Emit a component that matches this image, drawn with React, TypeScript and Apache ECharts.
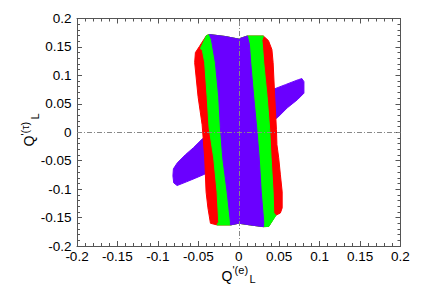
import React, { useEffect, useRef } from "react";
import * as echarts from "echarts";

type Pt = [number, number];

// Axis tick values
const X_MIN = -0.2;
const X_MAX = 0.2;
const Y_MIN = -0.2;
const Y_MAX = 0.2;
const TICK_STEP = 0.05;

// Region outlines (data coordinates: Q'(e)_L , Q'(τ)_L)
const ARM_UPPER: Pt[] = [
  [0.0417, 0.0749], [0.0577, 0.0837], [0.0738, 0.0925], [0.0781, 0.0943],
  [0.0806, 0.089], [0.0806, 0.0687], [0.0726, 0.0573], [0.0602, 0.0432],
  [0.0478, 0.0256], [0.0417, 0.0203],
];
const ARM_LOWER: Pt[] = [
  [-0.0412, -0.0079], [-0.0449, -0.0115], [-0.0561, -0.0273], [-0.066, -0.0396],
  [-0.0759, -0.0537], [-0.0808, -0.0643], [-0.0814, -0.0767], [-0.0804, -0.089],
  [-0.0762, -0.0937], [-0.0647, -0.0872], [-0.0536, -0.0807], [-0.0412, -0.0731],
];
const RED_OUTER: Pt[] = [
  [-0.0536, 0.1401], [-0.0487, 0.1507], [-0.04, 0.17], [-0.0363, 0.1718],
  [-0.0165, 0.1683], [-0.0004, 0.1639], [0.0107, 0.1692], [0.0305, 0.1692],
  [0.0367, 0.1612], [0.041, 0.1454], [0.0425, 0.1225], [0.0445, 0.0626],
  [0.0466, 0.0044], [0.0472, -0.022], [0.0494, -0.0449], [0.0515, -0.0749],
  [0.0537, -0.1048], [0.0537, -0.133], [0.0515, -0.1419], [0.0454, -0.1463],
  [0.0371, -0.1656], [0.0305, -0.166], [0.0144, -0.163], [0.0, -0.16],
  [-0.0103, -0.163], [-0.0268, -0.163], [-0.035, -0.16], [-0.0381, -0.133],
  [-0.0404, -0.1048], [-0.0421, -0.0449], [-0.0453, 0.0132], [-0.0503, 0.0626],
  [-0.0545, 0.1225],
];
const GREEN_BAND: Pt[] = [
  [-0.0474, 0.1471], [-0.04, 0.17], [-0.0363, 0.1718], [-0.0165, 0.1683],
  [-0.0004, 0.1639], [0.0107, 0.1692], [0.0305, 0.1692], [0.0287, 0.1612],
  [0.0297, 0.1454], [0.0309, 0.1225], [0.0351, 0.0626], [0.0383, 0.0044],
  [0.04, -0.0449], [0.0425, -0.1048], [0.0433, -0.1419], [0.046, -0.1463],
  [0.0371, -0.1656], [0.0305, -0.166], [0.0144, -0.163], [0.0, -0.16],
  [-0.0103, -0.163], [-0.0268, -0.163], [-0.0248, -0.1572], [-0.0268, -0.1048],
  [-0.031, -0.0449], [-0.0367, 0.0079], [-0.0391, 0.0626], [-0.0421, 0.1225],
  [-0.0449, 0.1436],
];
const PURPLE_CORE: Pt[] = [
  [-0.0363, 0.1718], [-0.0165, 0.1683], [-0.0004, 0.1639], [0.0107, 0.1692],
  [0.0132, 0.1542], [0.0148, 0.1225], [0.0185, 0.0626], [0.0222, 0.0079],
  [0.0253, -0.0449], [0.0278, -0.1048], [0.0309, -0.1577], [0.0305, -0.166],
  [0.0144, -0.163], [0.0, -0.16], [-0.0103, -0.163], [-0.0103, -0.1577],
  [-0.0144, -0.1048], [-0.0198, -0.0449], [-0.0227, 0.0079], [-0.0248, 0.0626],
  [-0.0289, 0.1225], [-0.0338, 0.163],
];

const PURPLE = "#6a00ff";
const GREEN = "#00ff00";
const RED = "#ff0000";

const FONT = "Liberation Sans, Arial, Helvetica, sans-serif";
const FRAME = "#555";

function regionSeries(pts: Pt[], color: string, z: number) {
  return {
    type: "custom",
    coordinateSystem: "cartesian2d",
    xAxisIndex: 0,
    yAxisIndex: 0,
    z,
    silent: true,
    data: [[0, 0]],
    renderItem: (_params: any, api: any) => ({
      type: "polygon",
      shape: { points: pts.map((p) => api.coord(p)) },
      style: { fill: color, stroke: color, lineWidth: 1 },
    }),
  };
}

function makeXAxis(position: "bottom" | "top", labels: boolean) {
  return {
    type: "value",
    position,
    min: X_MIN,
    max: X_MAX,
    interval: TICK_STEP,
    axisLine: { show: true, onZero: false, lineStyle: { color: FRAME, width: 1 } },
    axisTick: { show: true, inside: true, length: 5, lineStyle: { color: FRAME } },
    minorTick: { show: true, splitNumber: 5, length: 3, lineStyle: { color: FRAME } },
    splitLine: { show: false },
    axisLabel: {
      show: labels,
      color: "#000",
      fontSize: 13.5,
      fontFamily: FONT,
      margin: 3,
    },
  };
}

function makeYAxis(position: "left" | "right", labels: boolean) {
  return {
    type: "value",
    position,
    min: Y_MIN,
    max: Y_MAX,
    interval: TICK_STEP,
    axisLine: { show: true, onZero: false, lineStyle: { color: FRAME, width: 1 } },
    axisTick: { show: true, inside: true, length: 5, lineStyle: { color: FRAME } },
    minorTick: { show: true, splitNumber: 5, length: 3, lineStyle: { color: FRAME } },
    splitLine: { show: false },
    axisLabel: {
      show: labels,
      color: "#000",
      fontSize: 13.5,
      fontFamily: FONT,
      margin: 5.5,
    },
  };
}

export default function App() {
  const ref = useRef<HTMLDivElement>(null);

  useEffect(() => {
    if (!ref.current) return;
    const chart = echarts.init(ref.current, undefined, { renderer: "svg" });
    const option: any = {
      animation: false,
      backgroundColor: "#fff",
      grid: { left: 77, right: 30.5, top: 18.5, bottom: 59, outerBoundsMode: "none" },
      xAxis: [makeXAxis("bottom", true), makeXAxis("top", false)],
      yAxis: [makeYAxis("left", true), makeYAxis("right", false)],
      series: [
        regionSeries(ARM_UPPER, PURPLE, 1),
        regionSeries(ARM_LOWER, PURPLE, 1),
        regionSeries(RED_OUTER, RED, 2),
        regionSeries(GREEN_BAND, GREEN, 3),
        regionSeries(PURPLE_CORE, PURPLE, 4),
        {
          type: "line",
          data: [],
          z: 10,
          xAxisIndex: 0,
          yAxisIndex: 0,
          markLine: {
            silent: true,
            symbol: "none",
            label: { show: false },
            lineStyle: { color: "#888", width: 1, type: [5, 2, 1, 2] },
            data: [{ xAxis: 0 }, { yAxis: 0 }],
          },
        },
      ],
      graphic: [
        {
          type: "group",
          x: 221.5,
          y: 275.5,
          children: [
            { type: "text", x: 0, y: 0, style: { text: "Q", font: `14px ${FONT}`, fill: "#000", align: "left", verticalAlign: "middle" } },
            { type: "text", x: 11, y: -6, style: { text: "'(e)", font: `11px ${FONT}`, fill: "#000", align: "left", verticalAlign: "middle" } },
            { type: "text", x: 28, y: 3.5, style: { text: "L", font: `11px ${FONT}`, fill: "#000", align: "left", verticalAlign: "middle" } },
          ],
        },
        {
          type: "group",
          x: 29,
          y: 146.5,
          rotation: Math.PI / 2,
          children: [
            { type: "text", x: 0, y: 0, style: { text: "Q", font: `14px ${FONT}`, fill: "#000", align: "left", verticalAlign: "middle" } },
            { type: "text", x: 11, y: -4.5, style: { text: "'(τ)", font: `11px ${FONT}`, fill: "#000", align: "left", verticalAlign: "middle" } },
            { type: "text", x: 27, y: 6, style: { text: "L", font: `11px ${FONT}`, fill: "#000", align: "left", verticalAlign: "middle" } },
          ],
        },
      ],
    };
    chart.setOption(option);
    return () => chart.dispose();
  }, []);

  return (
    <div
      ref={ref}
      style={{ position: "fixed", left: 0, top: 0, width: 431, height: 305 }}
    />
  );
}
